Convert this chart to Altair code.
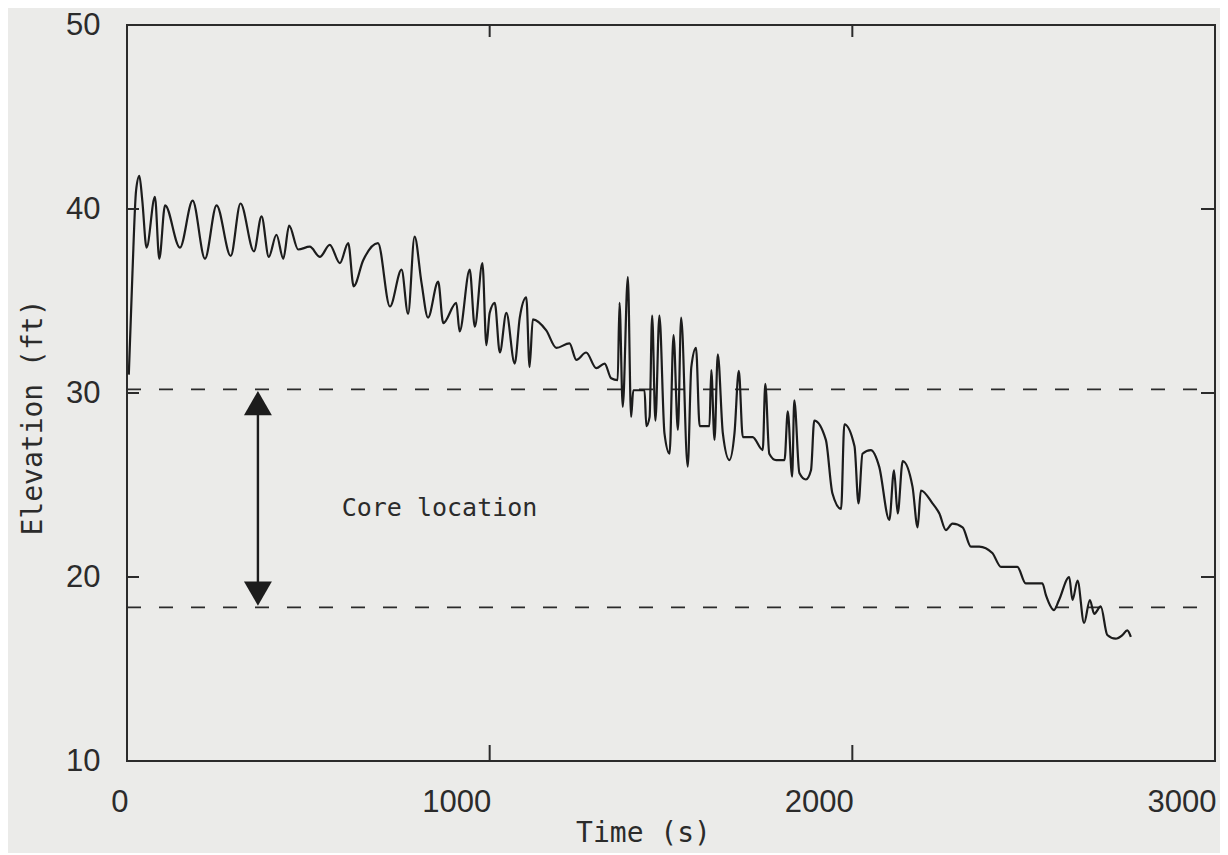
import altair as alt
import pandas as pd

# ---- data ----
time_s = [5, 15, 25, 34, 42, 54, 77, 89, 105, 146, 181, 215, 247, 286, 313, 350, 371, 391, 412, 431,
          447, 472, 504, 532, 559, 587, 610, 625, 651, 692, 725, 757, 775, 793, 812, 830, 858, 872,
          908, 917, 945, 959, 980, 991, 1000, 1014, 1028, 1046, 1069, 1083, 1101, 1110, 1119, 1156,
          1184, 1220, 1239, 1266, 1294, 1317, 1335, 1353, 1358, 1367, 1381, 1390, 1396, 1427, 1432,
          1441, 1448, 1457, 1468, 1482, 1496, 1507, 1519, 1528, 1546, 1556, 1569, 1579, 1606, 1611,
          1620, 1629, 1643, 1661, 1675, 1687, 1698, 1725, 1753, 1760, 1771, 1790, 1813, 1822, 1834,
          1840, 1854, 1872, 1886, 1895, 1927, 1945, 1969, 1978, 2006, 2017, 2028, 2051, 2074, 2102,
          2115, 2125, 2139, 2166, 2180, 2189, 2221, 2240, 2258, 2276, 2304, 2327, 2350, 2386, 2410,
          2455, 2478, 2524, 2534, 2556, 2570, 2598, 2607, 2621, 2639, 2655, 2667, 2685, 2703, 2726,
          2745, 2758, 2768]
elevation_ft = [31.0, 36.5, 41.0, 41.8, 40.5, 37.9, 40.66, 37.3, 40.2, 37.9, 40.45, 37.3, 40.2, 37.45,
                40.3, 37.7, 39.6, 37.4, 38.6, 37.3, 39.1, 37.8, 37.95, 37.4, 38.05, 37.06, 38.15, 35.8,
                37.2, 38.15, 34.7, 36.7, 34.3, 38.5, 36.0, 34.1, 36.05, 33.8, 34.9, 33.35, 36.7, 33.6,
                37.06, 32.6, 34.35, 34.9, 32.2, 34.35, 31.6, 34.1, 35.2, 31.4, 34.0, 33.4, 32.45, 32.7,
                31.8, 32.2, 31.35, 31.6, 30.8, 30.7, 34.9, 29.25, 36.3, 28.7, 30.15, 30.15, 28.2, 28.7,
                34.2, 28.5, 34.2, 27.8, 26.7, 33.15, 28.0, 34.1, 26.0, 31.4, 32.45, 28.2, 28.2, 31.25,
                27.45, 32.1, 27.8, 26.35, 27.8, 31.2, 27.6, 27.6, 26.9, 30.5, 26.7, 26.35, 26.35, 29.0,
                25.45, 29.6, 25.65, 25.3, 25.8, 28.5, 27.45, 24.55, 23.7, 28.3, 27.1, 24.0, 26.7, 26.9,
                26.0, 23.1, 25.8, 23.45, 26.3, 24.9, 22.7, 24.7, 24.0, 23.45, 22.55, 22.9, 22.7, 21.65,
                21.65, 21.3, 20.55, 20.55, 19.65, 19.65, 19.0, 18.2, 18.75, 20.0, 18.75, 19.8, 17.5,
                18.75, 18.0, 18.4, 16.85, 16.65, 16.85, 17.1, 16.75]

core_top = 30.2
core_bottom = 18.35
arrow_time = 361
label_text = "Core location"
label_time = 592
label_elev = 23.75

x_ticks = [0, 1000, 2000, 3000]
y_ticks = [10, 20, 30, 40, 50]
x_inner_ticks = [1000, 2000]
y_inner_ticks = [20, 30, 40]

INK = "#2b2b2b"
MONO = "DejaVu Sans Mono"
NUM = "Liberation Sans"

df = pd.DataFrame({"t": time_s, "z": elevation_ft})

xs = alt.Scale(domain=[0, 3000], nice=False, zero=False)
ys = alt.Scale(domain=[10, 50], nice=False, zero=False)

x_axis = alt.Axis(values=x_ticks, format="d", labelAlign="right", labelOffset=1, labelFontSize=31,
                  labelFont=NUM, labelColor=INK, labelPadding=26, tickSize=0, domain=False, grid=False,
                  title="Time (s)", titleFont=MONO, titleFontSize=28, titleFontWeight="normal",
                  titleColor=INK, titleX=516, titleY=72, titleAlign="center", titleBaseline="middle")
y_axis = alt.Axis(values=y_ticks, format="d", labelFontSize=31, labelFont=NUM, labelColor=INK,
                  labelPadding=27, tickSize=0, domain=False, grid=False,
                  title="Elevation (ft)", titleFont=MONO, titleFontSize=28, titleFontWeight="normal",
                  titleColor=INK, titleX=-94, titleY=392, titleAngle=270, titleAlign="center",
                  titleBaseline="middle")

line = alt.Chart(df).mark_line(color="#1c1c1c", strokeWidth=2.2, interpolate="monotone").encode(
    x=alt.X("t:Q", scale=xs, axis=x_axis),
    y=alt.Y("z:Q", scale=ys, axis=y_axis),
)

dash_df = pd.DataFrame({"z": [core_top, core_bottom]})
dashes = alt.Chart(dash_df).mark_rule(color=INK, strokeWidth=1.8, strokeDash=[14, 18]).encode(
    y=alt.Y("z:Q", scale=ys), x=alt.value(0), x2=alt.value(1088)
)

arrow_df = pd.DataFrame({"t": [arrow_time], "z1": [core_top - 0.9], "z2": [core_bottom + 0.8]})
shaft = alt.Chart(arrow_df).mark_rule(color="#1c1c1c", strokeWidth=2.4).encode(
    x=alt.X("t:Q", scale=xs), y=alt.Y("z1:Q", scale=ys), y2="z2:Q"
)
head_df = pd.DataFrame({"t": [arrow_time, arrow_time],
                        "z": [core_top - 0.75, core_bottom + 0.75],
                        "shape": ["triangle-up", "triangle-down"]})
heads = alt.Chart(head_df).mark_point(filled=True, color="#1c1c1c", size=780, opacity=1).encode(
    x=alt.X("t:Q", scale=xs), y=alt.Y("z:Q", scale=ys),
    shape=alt.Shape("shape:N", scale=None, legend=None)
)

label_df = pd.DataFrame({"t": [label_time], "z": [label_elev], "txt": [label_text]})
label = alt.Chart(label_df).mark_text(font=MONO, fontSize=25, color=INK, align="left",
                                      baseline="middle").encode(
    x=alt.X("t:Q", scale=xs), y=alt.Y("z:Q", scale=ys), text="txt:N"
)

xt_df = pd.DataFrame({"t": x_inner_ticks})
xt_bottom = alt.Chart(xt_df).mark_rule(color=INK, strokeWidth=2).encode(
    x=alt.X("t:Q", scale=xs), y=alt.value(736), y2=alt.value(720))
xt_top = alt.Chart(xt_df).mark_rule(color=INK, strokeWidth=2).encode(
    x=alt.X("t:Q", scale=xs), y=alt.value(0), y2=alt.value(12))
yt_df = pd.DataFrame({"z": y_inner_ticks})
yt_left = alt.Chart(yt_df).mark_rule(color=INK, strokeWidth=2).encode(
    y=alt.Y("z:Q", scale=ys), x=alt.value(0), x2=alt.value(12))
yt_right = alt.Chart(yt_df).mark_rule(color=INK, strokeWidth=2).encode(
    y=alt.Y("z:Q", scale=ys), x=alt.value(1088), x2=alt.value(1074))

chart = alt.layer(dashes, line, shaft, heads, label, xt_bottom, xt_top, yt_left, yt_right).properties(
    width=1088, height=736,
    autosize=alt.AutoSizeParams(type="none"),
    padding={"left": 119, "top": 17, "right": 5, "bottom": 92},
    background="#ebebe9",
).configure_view(stroke=INK, strokeWidth=2, fill=None)

chart.save("out.html", embed_options={"renderer": "svg", "actions": False})
